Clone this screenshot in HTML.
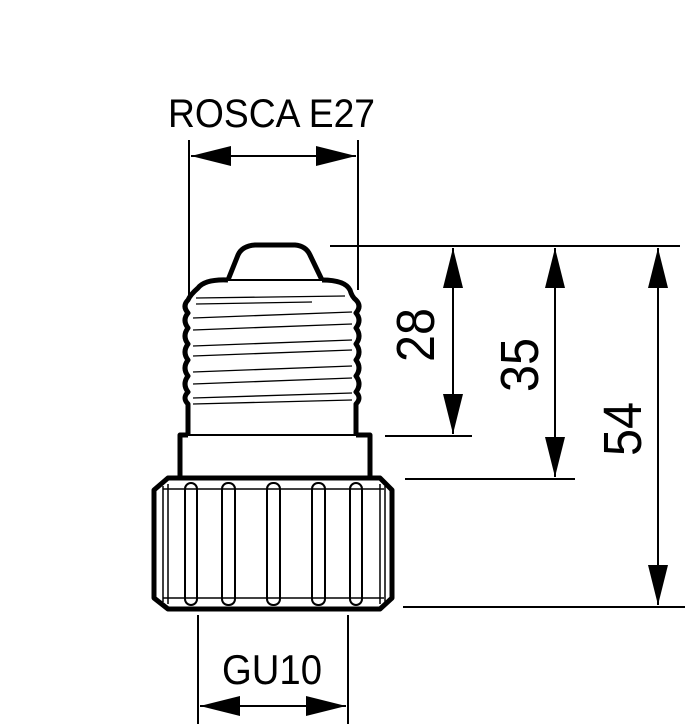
<!DOCTYPE html>
<html><head><style>html,body{margin:0;padding:0;background:#fff}svg{display:block}</style></head>
<body>
<svg width="700" height="724" viewBox="0 0 700 724" xmlns="http://www.w3.org/2000/svg">
<defs>
<marker id="a" viewBox="0 0 40 20" refX="40" refY="10" markerWidth="40" markerHeight="20" markerUnits="userSpaceOnUse" orient="auto-start-reverse"><path d="M0,0 L40,10 L0,20 Z" fill="#000"/></marker>
</defs>
<g stroke="#000" stroke-width="2" fill="none">
<!-- ROSCA dim -->
<line x1="189" y1="140" x2="189" y2="298"/>
<line x1="358" y1="140" x2="358" y2="290"/>
<line x1="191" y1="156" x2="356" y2="156" marker-start="url(#a)" marker-end="url(#a)"/>
<!-- right dims -->
<line x1="330" y1="246" x2="680" y2="246"/>
<line x1="385" y1="436" x2="472" y2="436"/>
<line x1="405" y1="479" x2="575" y2="479"/>
<line x1="403" y1="607" x2="685" y2="607"/>
<line x1="453" y1="248" x2="453" y2="434" marker-start="url(#a)" marker-end="url(#a)"/>
<line x1="555" y1="248" x2="555" y2="477" marker-start="url(#a)" marker-end="url(#a)"/>
<line x1="658" y1="248" x2="658" y2="605" marker-start="url(#a)" marker-end="url(#a)"/>
<!-- GU10 dim -->
<line x1="198" y1="615" x2="198" y2="724"/>
<line x1="348" y1="615" x2="348" y2="724"/>
<line x1="200" y1="706" x2="346" y2="706" marker-start="url(#a)" marker-end="url(#a)"/>
</g>
<!-- bulb base -->
<g stroke="#000" fill="none" stroke-linejoin="round">
<path d="M228,280 L238,255 Q242,246 255,245 L295,245 Q306,246 310,255 L322,280" stroke-width="5"/>
<line x1="228" y1="280" x2="322" y2="280" stroke-width="2"/>
<path d="M228,280 Q205,279 198,288 Q190,295 188,300 Q182,306 188,313 Q182,320 188,328 Q182,336 188,344 Q182,352 188,360 Q182,368 188,376 Q182,384 188,392 Q182,398 188,404 L188,436" stroke-width="5"/>
<path d="M322,280 Q345,280 350,290 Q352,297 356,300 Q362,306 356,313 Q362,320 356,328 Q362,336 356,344 Q362,352 356,360 Q362,368 356,376 Q362,384 356,392 Q362,398 356,404 L356,436" stroke-width="5"/>
<g stroke-width="1.3">
<line x1="196" y1="298" x2="345" y2="296"/>
<line x1="196" y1="304" x2="312" y2="302"/>
<line x1="193" y1="318" x2="352" y2="312"/>
<line x1="193" y1="330" x2="352" y2="324"/>
<line x1="193" y1="346" x2="352" y2="340"/>
<line x1="193" y1="356" x2="352" y2="350"/>
<line x1="193" y1="372" x2="352" y2="366"/>
<line x1="193" y1="384" x2="352" y2="378"/>
<line x1="193" y1="398" x2="352" y2="393"/>
<line x1="193" y1="404" x2="352" y2="400"/>
</g>
<line x1="188" y1="435" x2="356" y2="435" stroke-width="2"/>
<!-- collar -->
<path d="M188,435 L180,435 L180,478 M356,435 L370,435 L370,478" stroke-width="5"/>
<line x1="180" y1="478" x2="370" y2="478" stroke-width="2"/>
<!-- ring -->
<path d="M168,478 L380,478 L392,490 L392,598 L380,609 L168,609 L154,598 L154,490 Z" stroke-width="5"/>
<g stroke-width="1.5">
<line x1="163" y1="489" x2="384" y2="489"/>
<line x1="163" y1="598" x2="384" y2="598"/>
<line x1="163" y1="486" x2="163" y2="602"/>
<line x1="168" y1="484" x2="168" y2="604"/>
<line x1="380" y1="484" x2="380" y2="604"/>
<line x1="385" y1="486" x2="385" y2="602"/>
</g>
<g stroke-width="2">
<rect x="185" y="483" width="12" height="122" rx="6"/>
<rect x="222" y="483" width="13" height="122" rx="6"/>
<rect x="267" y="483" width="13" height="122" rx="6"/>
<rect x="312" y="483" width="13" height="122" rx="6"/>
<rect x="350" y="483" width="12" height="122" rx="6"/>
</g>
</g>
<g font-family="Liberation Sans, sans-serif" fill="#000">
<text x="168" y="127" font-size="40" textLength="207" lengthAdjust="spacingAndGlyphs">ROSCA E27</text>
<text x="222" y="684" font-size="42" textLength="100" lengthAdjust="spacingAndGlyphs">GU10</text>
<text transform="translate(434,362) rotate(-90)" font-size="54" textLength="54" lengthAdjust="spacingAndGlyphs">28</text>
<text transform="translate(538,392) rotate(-90)" font-size="54" textLength="54" lengthAdjust="spacingAndGlyphs">35</text>
<text transform="translate(641,456) rotate(-90)" font-size="54" textLength="54" lengthAdjust="spacingAndGlyphs">54</text>
</g>
</svg>
</body></html>
